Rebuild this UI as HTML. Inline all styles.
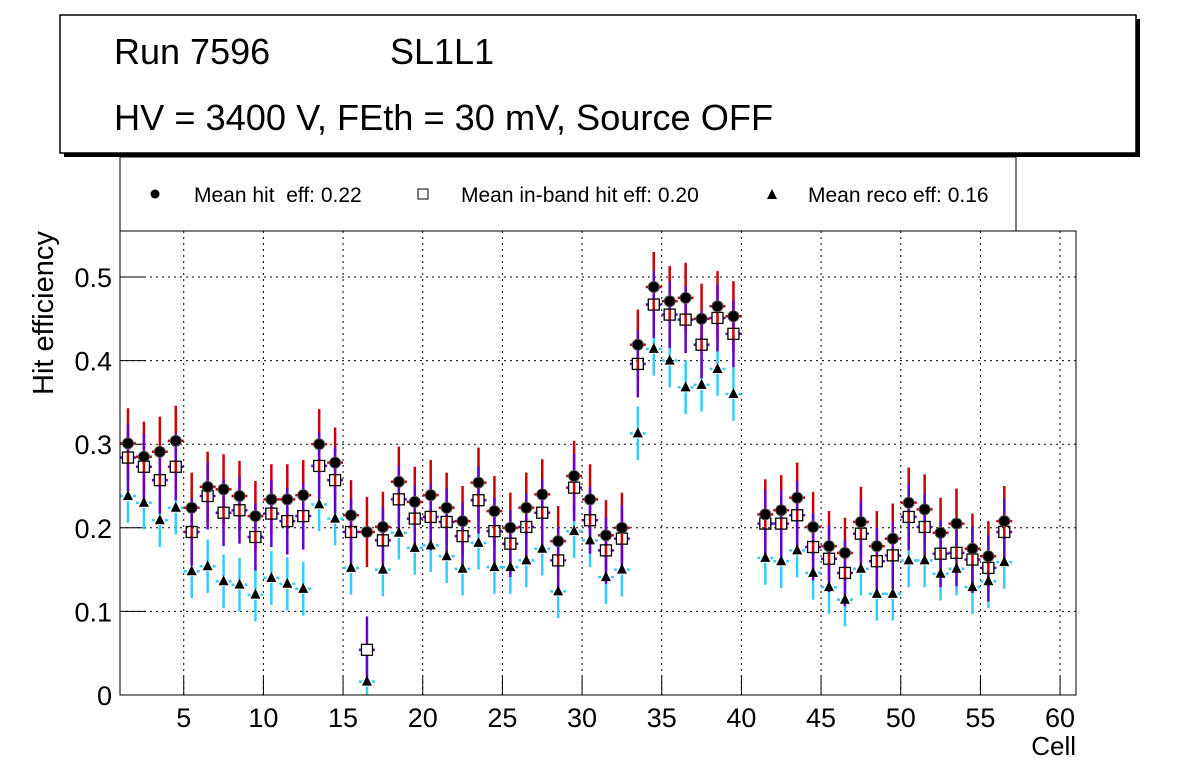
<!DOCTYPE html>
<html><head><meta charset="utf-8"><style>
body{margin:0;background:#fff;width:1196px;height:772px;overflow:hidden}
svg{display:block;font-family:"Liberation Sans",sans-serif}
</style></head><body>
<svg id="c" width="1196" height="772">
<rect x="64" y="19" width="1076" height="138" fill="#000"/>
<rect x="60" y="15" width="1076" height="138" fill="#fff" stroke="#000" stroke-width="1.5"/>
<text x="114" y="64" font-size="36">Run 7596</text>
<text x="390" y="64" font-size="36">SL1L1</text>
<text x="114" y="130" font-size="36.2">HV = 3400 V, FEth = 30 mV, Source OFF</text>
<rect x="120" y="157" width="896" height="74" fill="#fff" stroke="#000" stroke-width="1"/>
<g id="legend" font-size="21">
<circle cx="155" cy="194" r="4.5" fill="#000"/>
<text x="194" y="202" xml:space="preserve">Mean hit  eff: 0.22</text>
<rect x="418" y="189" width="10" height="10" fill="#fff" stroke="#000"/>
<text x="461" y="202">Mean in-band hit eff: 0.20</text>
<path d="M767,199 L772,189 L777,199 Z" fill="#000"/>
<text x="808" y="202">Mean reco eff: 0.16</text>
</g>
<g id="grid"></g>
<g id="axes"></g>
<g id="marks"></g>
<rect x="120" y="231" width="956" height="464" fill="none" stroke="#000" stroke-width="1"/>
<text x="1076" y="755" font-size="26" text-anchor="end">Cell</text>
<text transform="translate(53,395) rotate(-90)" font-size="29">Hit efficiency</text>
</svg>
<script>
const cells=[1,2,3,4,5,6,7,8,9,10,11,12,13,14,15,16,17,18,19,20,21,22,23,24,25,26,27,28,29,30,31,32,33,34,35,36,37,38,39,41,42,43,44,45,46,47,48,49,50,51,52,53,54,55,56];
const hitEff=[.301,.285,.291,.304,.224,.249,.246,.238,.214,.234,.234,.239,.300,.278,.215,.195,.201,.255,.231,.239,.224,.208,.254,.220,.200,.224,.240,.184,.262,.234,.191,.200,.419,.488,.471,.475,.450,.465,.453,.216,.221,.236,.201,.178,.170,.207,.178,.187,.230,.222,.194,.205,.175,.166,.208];
const inbandEff=[.284,.273,.257,.273,.195,.238,.218,.221,.189,.217,.208,.214,.274,.257,.195,.054,.185,.234,.211,.213,.207,.190,.233,.196,.181,.201,.218,.161,.248,.209,.173,.187,.396,.467,.455,.449,.419,.451,.432,.205,.205,.215,.177,.163,.146,.193,.160,.167,.213,.201,.169,.170,.162,.152,.195];
const recoEff=[.238,.230,.209,.224,.148,.154,.136,.132,.120,.140,.133,.127,.228,.211,.152,.016,.150,.194,.176,.179,.166,.151,.182,.153,.153,.161,.175,.124,.196,.185,.141,.150,.313,.414,.400,.368,.371,.390,.360,.164,.160,.173,.146,.129,.114,.151,.121,.121,.161,.161,.145,.151,.129,.136,.159];
const hitErr=0.042, inbandErr=0.04, recoErr=0.032;
const xTicks=[5,10,15,20,25,30,35,40,45,50,55,60];
const yTicks=[0,0.1,0.2,0.3,0.4,0.5];
const X0=120,X1=1076,Y0=695,Y1=231,xmin=1,xmax=61,ymin=0,ymax=0.555;
const sx=v=>X0+(v-xmin)/(xmax-xmin)*(X1-X0);
const sy=v=>Y0-(v-ymin)/(ymax-ymin)*(Y0-Y1);
const NS='http://www.w3.org/2000/svg';
function mk(tag,attrs,parent){const e=document.createElementNS(NS,tag);for(const k in attrs)e.setAttribute(k,attrs[k]);parent.appendChild(e);return e;}
const grid=document.getElementById('grid'),axes=document.getElementById('axes'),marks=document.getElementById('marks');
xTicks.forEach(t=>{
  const l=mk('line',{x1:sx(t),x2:sx(t),y1:Y1,y2:Y0,stroke:'#000','stroke-dasharray':'2,4','stroke-width':1},grid);
  
  
  const tk=mk('line',{x1:sx(t),x2:sx(t),y1:Y0,y2:Y0-19,stroke:'#000'},axes);
  
  
  const tx=mk('text',{x:sx(t),y:Y0+32,'font-size':27,'text-anchor':'middle'},axes);tx.textContent=t;
  
  
});
yTicks.forEach(t=>{
  if(t>0){const l=mk('line',{x1:X0,x2:X1,y1:sy(t),y2:sy(t),stroke:'#000','stroke-dasharray':'2,4','stroke-width':1},grid);
  
  }
  const tk=mk('line',{x1:X0,x2:X0+26,y1:sy(t),y2:sy(t),stroke:'#000'},axes);
  
  
  const tx=mk('text',{x:X0-8,y:sy(t)+10,'font-size':27,'text-anchor':'end'},axes);tx.textContent=t===0?'0':t.toFixed(1);
  
  
});
function series(vals,err,color,gap,name){
  const g=mk('g',{},marks);
  
  
  cells.forEach((c,i)=>{
    const x=sx(c+0.5),y=sy(vals[i]);
    mk('line',{x1:x,x2:x,y1:sy(vals[i]+err),y2:y-gap,stroke:color,'stroke-width':2.5},g);
    mk('line',{x1:x,x2:x,y1:y+gap,y2:sy(Math.max(0,vals[i]-err)),stroke:color,'stroke-width':2.5},g);
    mk('line',{x1:sx(c),x2:x-gap,y1:y,y2:y,stroke:color,'stroke-width':2.5},g);
    mk('line',{x1:x+gap,x2:sx(c+1),y1:y,y2:y,stroke:color,'stroke-width':2.5},g);
  });
}
series(recoEff,recoErr,'#33ccff',5,'reco');
series(hitEff,hitErr,'#cc0000',0,'hit');
series(inbandEff,inbandErr,'#6600cc',6,'inband');
cells.forEach((c,i)=>{
  const x=sx(c+0.5);
  const r=mk('path',{d:`M${x-5},${sy(recoEff[i])+4} L${x},${sy(recoEff[i])-6} L${x+5},${sy(recoEff[i])+4} Z`,fill:'#000'},marks);
  
  
  const s=mk('rect',{x:x-5.5,y:sy(inbandEff[i])-5.5,width:11,height:11,fill:'none',stroke:'#000','stroke-width':1.3},marks);
  
  
  const h=mk('circle',{cx:x,cy:sy(hitEff[i]),r:5.5,fill:'#000',stroke:'#555','stroke-width':1},marks);
  
  
});
</script>
</body></html>
